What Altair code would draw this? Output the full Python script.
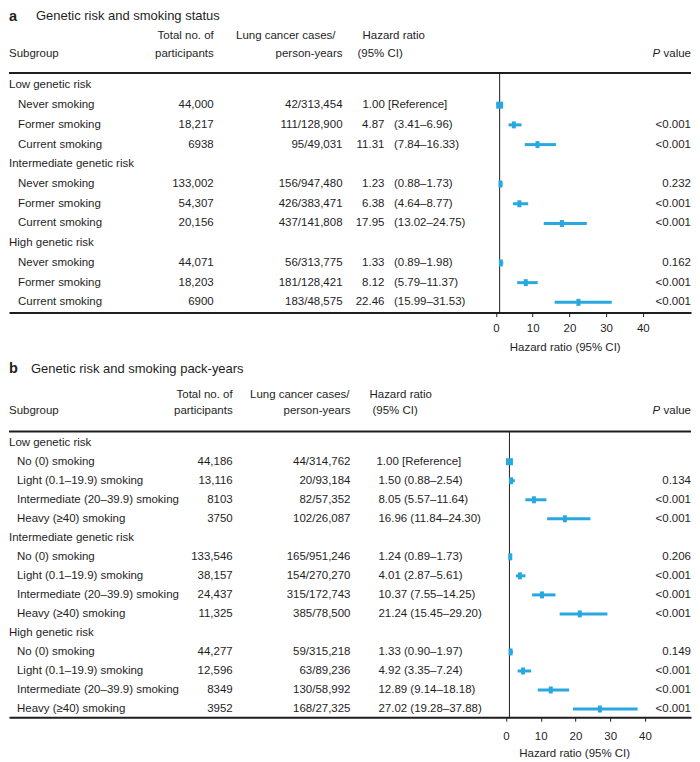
import altair as alt
import pandas as pd

FONT = "Liberation Sans"
BLUE = "#29A8E0"
INK = "#1E1E1E"
W = 683
FS = 11.5

# ---------------- Panel a data ----------------
groups_a = ["Low genetic risk", "Intermediate genetic risk", "High genetic risk"]
items_a = ["Never smoking", "Former smoking", "Current smoking"]
participants_a = ["44,000", "18,217", "6938", "133,002", "54,307", "20,156",
                  "44,071", "18,203", "6900"]
cases_a = ["42/313,454", "111/128,900", "95/49,031", "156/947,480", "426/383,471",
           "437/141,808", "56/313,775", "181/128,421", "183/48,575"]
hr_a = [1.00, 4.87, 11.31, 1.23, 6.38, 17.95, 1.33, 8.12, 22.46]
lo_a = [None, 3.41, 7.84, 0.88, 4.64, 13.02, 0.89, 5.79, 15.99]
hi_a = [None, 6.96, 16.33, 1.73, 8.77, 24.75, 1.98, 11.37, 31.53]
p_a = ["", "<0.001", "<0.001", "0.232", "<0.001", "<0.001", "0.162", "<0.001", "<0.001"]

# ---------------- Panel b data ----------------
groups_b = ["Low genetic risk", "Intermediate genetic risk", "High genetic risk"]
items_b = ["No (0) smoking", "Light (0.1\u201319.9) smoking",
           "Intermediate (20\u201339.9) smoking", "Heavy (\u226540) smoking"]
participants_b = ["44,186", "13,116", "8103", "3750", "133,546", "38,157", "24,437",
                  "11,325", "44,277", "12,596", "8349", "3952"]
cases_b = ["44/314,762", "20/93,184", "82/57,352", "102/26,087", "165/951,246",
           "154/270,270", "315/172,743", "385/78,500", "59/315,218", "63/89,236",
           "130/58,992", "168/27,325"]
hr_b = [1.00, 1.50, 8.05, 16.96, 1.24, 4.01, 10.37, 21.24, 1.33, 4.92, 12.89, 27.02]
lo_b = [None, 0.88, 5.57, 11.84, 0.89, 2.87, 7.55, 15.45, 0.90, 3.35, 9.14, 19.28]
hi_b = [None, 2.54, 11.64, 24.30, 1.73, 5.61, 14.25, 29.20, 1.97, 7.24, 18.18, 37.88]
p_b = ["", "0.134", "<0.001", "<0.001", "0.206", "<0.001", "<0.001", "<0.001",
       "0.149", "<0.001", "<0.001", "<0.001"]

tick_values = [0, 10, 20, 30, 40]
axis_title = "Hazard ratio (95% CI)"


def build(groups, items, participants, cases, hr, lo, hi, p):
    grows, irows = [], []
    r = 0
    k = 0
    for g in groups:
        grows.append({"row": r, "label": g})
        r += 1
        for it in items:
            ref = lo[k] is None
            irows.append({
                "row": r, "label": it, "participants": participants[k],
                "cases": cases[k], "hr": hr[k], "lo": lo[k], "hi": hi[k],
                "p": p[k], "ref": ref,
                "hr_txt": f"{hr[k]:.2f}",
                "ci_txt": "" if ref else f"({lo[k]:.2f}\u2013{hi[k]:.2f})",
                "full_txt": f"{hr[k]:.2f} [Reference]" if ref
                else f"{hr[k]:.2f} ({lo[k]:.2f}\u2013{hi[k]:.2f})",
            })
            r += 1
            k += 1
    return pd.DataFrame(grows), pd.DataFrame(irows)


ONE = pd.DataFrame({"k": [0]})


def head(text, x, y, align="left", size=FS, weight="normal", style="normal",
         baseline="middle"):
    return alt.Chart(ONE).mark_text(
        text=text, align=align, baseline=baseline, font=FONT, fontSize=size,
        fontWeight=weight, fontStyle=style, color=INK
    ).encode(x=alt.value(x), y=alt.value(y))


def coltext(df, field, x, Y, align="left", flt=None):
    c = alt.Chart(df)
    if flt:
        c = c.transform_filter(flt)
    return c.mark_text(align=align, baseline="middle", font=FONT, fontSize=FS,
                       color=INK).encode(x=alt.value(x), y=Y, text=f"{field}:N")


def make_axis(label_pad, title_x, title_y):
    return alt.Axis(values=tick_values, grid=False, domain=True, domainColor=INK,
                    domainWidth=2, ticks=True, tickColor=INK, tickSize=4, tickWidth=1,
                    labelFont=FONT, labelFontSize=FS, labelColor=INK,
                    labelPadding=label_pad, format="d", title=axis_title,
                    titleFont=FONT, titleFontSize=FS, titleFontWeight="normal",
                    titleColor=INK, titleX=title_x, titleY=title_y,
                    titleBaseline="middle", titleAlign="center")


def forest_layers(idf, Y, ax, xs, top_y, H):
    Xhr = alt.X("hr:Q", scale=xs, axis=ax)
    vline = alt.Chart(idf).transform_filter("datum.ref").mark_rule(
        color=INK, strokeWidth=1).encode(x=Xhr, y=alt.value(top_y), y2=alt.value(H))
    bars = alt.Chart(idf).transform_filter("!datum.ref").mark_rule(
        color=BLUE, strokeWidth=3).encode(
        x=alt.X("lo:Q", scale=xs, axis=ax), x2="hi:Q", y=Y)
    ticks = alt.Chart(idf).transform_filter("!datum.ref").mark_tick(
        color=BLUE, orient="vertical", thickness=4, size=7, opacity=1).encode(x=Xhr, y=Y)
    sq = alt.Chart(idf).transform_filter("datum.ref").mark_square(
        color=BLUE, size=49, opacity=1, filled=True).encode(x=Xhr, y=Y)
    return [vline, bars, ticks, sq]


# ---------------- Panel a ----------------
ga, ia = build(groups_a, items_a, participants_a, cases_a, hr_a, lo_a, hi_a, p_a)
Ha = 303.5
ya0 = 76.0
ysp_a = 19.75
ydom_a = [-ya0 / ysp_a, (Ha - ya0) / ysp_a]
Ya = alt.Y("row:Q", scale=alt.Scale(domain=ydom_a, reverse=True, nice=False, zero=False),
           axis=None)
x0a, ppu_a = 487.7, 3.675
xs_a = alt.Scale(domain=[-x0a / ppu_a, (W - x0a) / ppu_a], nice=False, zero=False)
ax_a = make_axis(6, 556.5, 35)
top_a = 63.5

layers_a = [
    head("a", 0, 0, size=14.5, weight="bold", baseline="top"),
    head("Genetic risk and smoking status", 27, 0, size=13, baseline="top"),
    head("Subgroup", 0, 45),
    head("Total no. of", 205, 26.7, align="right"),
    head("participants", 205, 44.3, align="right"),
    head("Lung cancer cases/", 327, 26.7, align="right"),
    head("person-years", 334, 44.3, align="right"),
    head("Hazard ratio", 354, 26.7),
    head("(95% CI)", 349, 44.3),
    head("P", 652, 44.3, align="right", style="italic"),
    head("value", 683, 44.3, align="right"),
    alt.Chart(ONE).mark_rule(color=INK, strokeWidth=2).encode(
        x=alt.value(0), x2=alt.value(W), y=alt.value(top_a)),
    coltext(ga, "label", 0, Ya),
    coltext(ia, "label", 9, Ya),
    coltext(ia, "participants", 205, Ya, align="right"),
    coltext(ia, "cases", 334, Ya, align="right"),
    coltext(ia, "hr_txt", 376, Ya, align="right", flt="!datum.ref"),
    coltext(ia, "ci_txt", 385.5, Ya, flt="!datum.ref"),
    coltext(ia, "full_txt", 354, Ya, flt="datum.ref"),
    coltext(ia, "p", 683, Ya, align="right"),
] + forest_layers(ia, Ya, ax_a, xs_a, top_a, Ha)

panel_a = alt.layer(*layers_a).properties(width=W, height=Ha)

# ---------------- Panel b ----------------
gb, ib = build(groups_b, items_b, participants_b, cases_b, hr_b, lo_b, hi_b, p_b)
yb0 = 86.3
ysp_b = 19.05
Hb = yb0 + 14 * ysp_b + 8.2
ydom_b = [-yb0 / ysp_b, (Hb - yb0) / ysp_b]
Yb = alt.Y("row:Q", scale=alt.Scale(domain=ydom_b, reverse=True, nice=False, zero=False),
           axis=None)
x0b, ppu_b = 497.7, 3.48
xs_b = alt.Scale(domain=[-x0b / ppu_b, (W - x0b) / ppu_b], nice=False, zero=False)
ax_b = make_axis(9.5, 566, 36.5)
top_b = 75

layers_b = [
    head("b", 0, 16, size=14.5, weight="bold", baseline="alphabetic"),
    head("Genetic risk and smoking pack-years", 22, 16.3, size=13, baseline="alphabetic"),
    head("Subgroup", 0, 55),
    head("Total no. of", 224, 38.3, align="right"),
    head("participants", 224, 55, align="right"),
    head("Lung cancer cases/", 341, 38.3, align="right"),
    head("person-years", 342, 55, align="right"),
    head("Hazard ratio", 361, 38.3),
    head("(95% CI)", 364, 55),
    head("P", 652, 55, align="right", style="italic"),
    head("value", 683, 55, align="right"),
    alt.Chart(ONE).mark_rule(color=INK, strokeWidth=2).encode(
        x=alt.value(0), x2=alt.value(W), y=alt.value(top_b)),
    coltext(gb, "label", 0, Yb),
    coltext(ib, "label", 8, Yb),
    coltext(ib, "participants", 224, Yb, align="right"),
    coltext(ib, "cases", 342, Yb, align="right"),
    coltext(ib, "full_txt", 370, Yb, flt="!datum.ref"),
    coltext(ib, "full_txt", 368, Yb, flt="datum.ref"),
    coltext(ib, "p", 683, Yb, align="right"),
] + forest_layers(ib, Yb, ax_b, xs_b, top_b, Hb)

panel_b = alt.layer(*layers_b).properties(width=W, height=Hb)

chart = alt.vconcat(panel_a, panel_b, spacing=43.5, bounds="flush").properties(
    padding=0
).configure_view(stroke=None)

chart.save("out.html", embed_options={"renderer": "svg", "actions": False})
